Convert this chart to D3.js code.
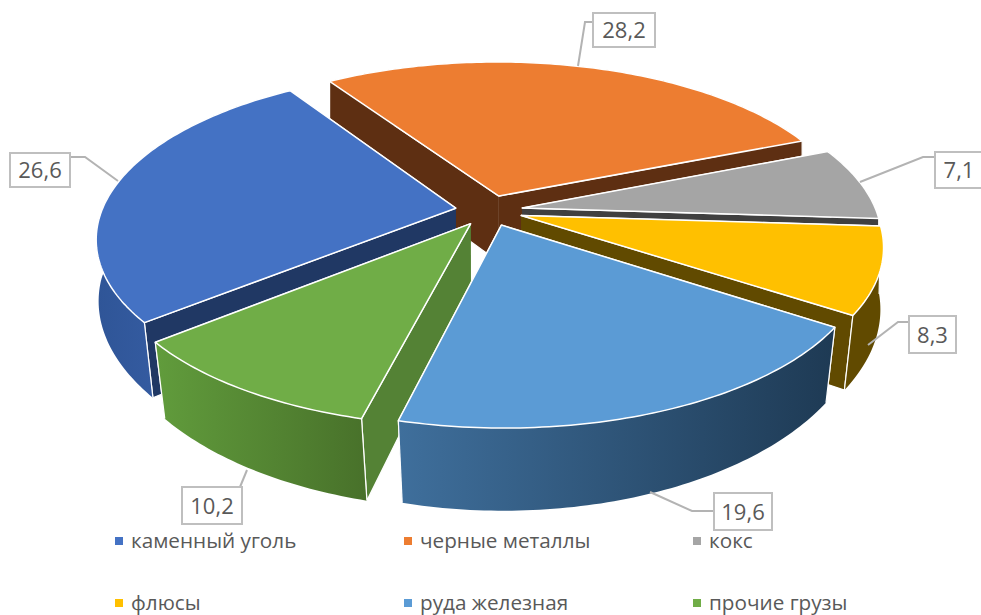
<!DOCTYPE html>
<html>
<head>
<meta charset="utf-8">
<script src="https://cdn.jsdelivr.net/npm/d3@7"></script>
<style>
  body { margin: 0; background: #fff; overflow: hidden; }
  text { font-family: "Open Sans", sans-serif; fill: #595959; }
</style>
</head>
<body>
<div id="chart"></div>
<script>
// Data
const categories = ['каменный уголь', 'черные металлы', 'кокс', 'флюсы', 'руда железная', 'прочие грузы'];
const values = [26.6, 28.2, 7.1, 8.3, 19.6, 10.2];
const valueLabels = ['26,6', '28,2', '7,1', '8,3', '19,6', '10,2'];

// Colours
const topColors = ['#4472c4', '#ed7d31', '#a5a5a5', '#ffc000', '#5b9bd5', '#70ad47'];
const wallColors = ['#203864', '#5e2f12', '#404040', '#614a00', '#1f3d5a', '#548235'];
const outerColors = [['#2f5597', '#4069b6'], ['#5e2f12', '#5e2f12'], ['#404040', '#404040'],
    ['#614a00', '#614a00'], ['#3f6f9c', '#1e3a54'], ['#619c3c', '#48712a']];

// Label boxes [x, y, w, h] and their leader lines
const labelBoxes = [[10, 153, 60, 34], [593, 13, 62, 34], [935, 152, 60, 36],
    [909, 316, 47, 37], [714, 493, 58, 37], [182, 487, 60, 37]];
const leaders = [
    [[70, 157], [85, 157], [118, 181]],
    [[593, 22], [585, 22], [578, 66]],
    [[935, 157], [923, 157], [860, 182]],
    [[909, 322], [898, 322], [868, 345]],
    [[714, 511], [692, 511], [650, 492]],
    [[240, 487], [247, 470]]
];

const width = 981;
const height = 615;

// Pie projection: flat disc seen from above with some perspective
const cx = 489, cy = 210.5;
const scaleX = 354, scaleY = 162;
const perspective = 0.174;
const explode = 0.095;
const depth = 67;
const bottomShrink = 0.04;
const firstAngle = 230.8;

const svg = d3.select('#chart')
    .append('svg')
    .attr('width', width)
    .attr('height', height);

const defs = svg.append('defs');

const pie = d3.pie()
    .sort(null)
    .value(d => d)
    .startAngle(firstAngle * Math.PI / 180)
    .endAngle((firstAngle + 360) * Math.PI / 180);

const line = d3.line();

// angle in radians clockwise from the top, r is 1 at the rim
function project(angle, r, mid, lower) {
    const X = r * Math.sin(angle) + explode * Math.sin(mid);
    const Y = -r * Math.cos(angle) - explode * Math.cos(mid);
    const w = 1 - perspective * Y;
    let x = cx + scaleX * X / w;
    let y = cy + scaleY * Y / w;
    if (lower) {
        x = cx + (x - cx) * (1 - bottomShrink * Math.max(Y, 0));
        y = y + depth / w;
    }
    return [x, y];
}

function rimAngles(a) {
    const n = Math.ceil((a.endAngle - a.startAngle) * 60);
    return d3.range(n + 1).map(i => a.startAngle + (a.endAngle - a.startAngle) * i / n);
}

const arcs = pie(values).map((a, i) => ({ ...a, i, mid: (a.startAngle + a.endAngle) / 2 }));

// Back slices first, the ore slice goes over its neighbours
const drawOrder = [1, 2, 0, 3, 5, 4];

drawOrder.forEach(i => {
    const a = arcs[i];
    const g = svg.append('g').attr('class', 'slice');

    const grad = defs.append('linearGradient').attr('id', `outer-${i}`);
    grad.append('stop').attr('offset', '0%').attr('stop-color', outerColors[i][0]);
    grad.append('stop').attr('offset', '100%').attr('stop-color', outerColors[i][1]);

    // Radial walls, the nearer one last
    const walls = [a.startAngle, a.endAngle]
        .sort((p, q) => -Math.cos(p) + Math.cos(q));
    walls.forEach(angle => {
        g.append('path')
            .attr('d', line([
                project(angle, 0, a.mid, false),
                project(angle, 1, a.mid, false),
                project(angle, 1, a.mid, true),
                project(angle, 0, a.mid, true)
            ]))
            .attr('fill', wallColors[i])
            .attr('stroke', '#fff')
            .attr('stroke-width', 1.2)
            .attr('stroke-linejoin', 'round');
    });

    // Outer wall, with a white line on its two vertical ends
    const angles = rimAngles(a);
    const upper = angles.map(t => project(t, 1, a.mid, false));
    const lowerEdge = angles.map(t => project(t, 1, a.mid, true));
    g.append('path')
        .attr('d', line(upper.concat(lowerEdge.slice().reverse())) + 'Z')
        .attr('fill', `url(#outer-${i})`);
    [0, angles.length - 1].forEach(k => {
        g.append('path')
            .attr('d', line([upper[k], lowerEdge[k]]))
            .attr('stroke', '#fff')
            .attr('stroke-width', 1.2);
    });

    // Top face
    g.append('path')
        .attr('d', line([project(0, 0, a.mid, false)].concat(upper)) + 'Z')
        .attr('fill', topColors[i])
        .attr('stroke', '#fff')
        .attr('stroke-width', 1.5)
        .attr('stroke-linejoin', 'round');
});

// Leader lines
svg.append('g')
    .selectAll('path')
    .data(leaders)
    .join('path')
    .attr('d', d => line(d))
    .attr('fill', 'none')
    .attr('stroke', '#b3b3b3')
    .attr('stroke-width', 2);

// Value labels
const labels = svg.append('g')
    .selectAll('g')
    .data(valueLabels)
    .join('g');

labels.append('rect')
    .attr('x', (d, i) => labelBoxes[i][0])
    .attr('y', (d, i) => labelBoxes[i][1])
    .attr('width', (d, i) => labelBoxes[i][2])
    .attr('height', (d, i) => labelBoxes[i][3])
    .attr('fill', '#fff')
    .attr('stroke', '#bfbfbf')
    .attr('stroke-width', 2);

labels.append('text')
    .attr('x', (d, i) => i === 2 ? labelBoxes[i][0] + 24 : labelBoxes[i][0] + labelBoxes[i][2] / 2)
    .attr('y', (d, i) => labelBoxes[i][1] + labelBoxes[i][3] / 2 + 8)
    .attr('text-anchor', 'middle')
    .style('font-size', '22px')
    .text(d => d);

// Legend
const legendX = [115, 404, 693];
const legendY = [541, 603];

const legend = svg.append('g')
    .selectAll('g')
    .data(categories)
    .join('g')
    .attr('transform', (d, i) => `translate(${legendX[i % 3]},${legendY[Math.floor(i / 3)]})`);

legend.append('rect')
    .attr('x', 0)
    .attr('y', -4)
    .attr('width', 8)
    .attr('height', 8)
    .attr('fill', (d, i) => topColors[i]);

legend.append('text')
    .attr('x', 16)
    .attr('y', 7)
    .style('font-size', '20.7px')
    .text(d => d);
</script>
</body>
</html>
